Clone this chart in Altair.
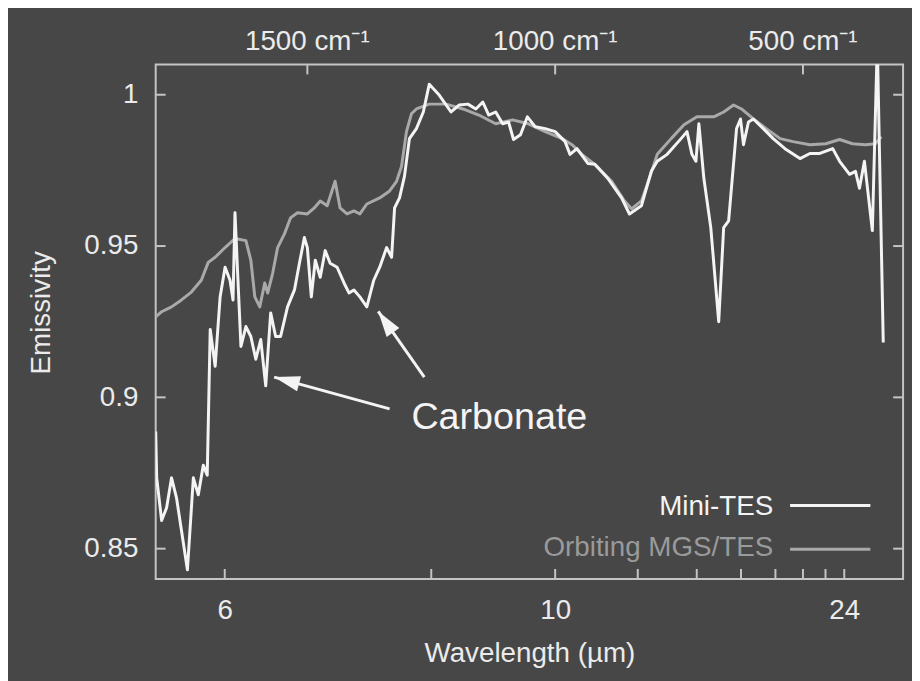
import altair as alt
import pandas as pd

# ---------------- data ----------------
# Orbiting MGS/TES spectrum: wavenumber (cm-1) and emissivity
mgs_wn = [1806, 1794, 1774, 1754, 1734, 1714, 1700, 1686, 1666, 1646, 1624, 1614, 1606, 1596, 1586,
          1580, 1570, 1560, 1546, 1534, 1520, 1500, 1486, 1474, 1460, 1444, 1434, 1420, 1406, 1394,
          1380, 1354, 1334, 1320, 1310, 1300, 1290, 1280, 1254, 1220, 1186, 1154, 1120, 1086, 1054,
          1020, 986, 966, 946, 920, 886, 860, 846, 826, 814, 794, 766, 740, 714, 680,
          660, 640, 624, 600, 574, 546, 520, 486, 454, 426, 400, 374, 354, 342]
mgs_em = [0.9266, 0.9283, 0.9299, 0.9322, 0.9348, 0.9387, 0.9446, 0.9463, 0.9495, 0.9525, 0.9518, 0.9453, 0.9332, 0.9299, 0.9378,
          0.9345, 0.9410, 0.9495, 0.9541, 0.9593, 0.9610, 0.9606, 0.9626, 0.9649, 0.9633, 0.9714, 0.9626, 0.9606, 0.9616, 0.9606,
          0.9639, 0.9659, 0.9682, 0.9714, 0.9763, 0.9878, 0.9937, 0.9953, 0.9969, 0.9969, 0.9953, 0.9933, 0.9904, 0.9917, 0.9904,
          0.9878, 0.9855, 0.9835, 0.9803, 0.9770, 0.9714, 0.9649, 0.9623, 0.9649, 0.9704, 0.9803, 0.9855, 0.9901, 0.9927, 0.9927,
          0.9943, 0.9966, 0.9953, 0.9920, 0.9888, 0.9855, 0.9845, 0.9835, 0.9838, 0.9852, 0.9838, 0.9835, 0.9838, 0.9861]

# Mini-TES spectrum
mini_wn = [1806, 1804, 1794, 1784, 1774, 1764, 1754, 1742, 1730, 1720, 1710, 1702, 1696, 1686, 1676,
           1666, 1656, 1650, 1646, 1640, 1634, 1624, 1614, 1604, 1594, 1584, 1574, 1564, 1554, 1540,
           1526, 1516, 1506, 1500, 1492, 1484, 1474, 1464, 1454, 1440, 1426, 1416, 1406, 1394, 1380,
           1366, 1354, 1340, 1330, 1324, 1314, 1304, 1294, 1280, 1266, 1254, 1234, 1210, 1194, 1176,
           1160, 1146, 1134, 1120, 1106, 1094, 1084, 1070, 1056, 1040, 1020, 1000, 980, 970, 956,
           934, 920, 894, 866, 850, 826, 806, 794, 774, 746, 734, 724, 716, 710, 700,
           686, 670, 660, 650, 634, 626, 620, 610, 600, 580, 560, 534, 506, 486, 466,
           440, 426, 406, 394, 386, 376, 360, 350, 338]
mini_em = [0.8887, 0.8734, 0.8593, 0.8635, 0.8734, 0.8668, 0.8560, 0.8430, 0.8734, 0.8678, 0.8776, 0.8743, 0.9224, 0.9103, 0.9332,
           0.9430, 0.9387, 0.9322, 0.9610, 0.9387, 0.9168, 0.9234, 0.9201, 0.9126, 0.9191, 0.9038, 0.9279, 0.9201, 0.9201, 0.9299,
           0.9355, 0.9443, 0.9528, 0.9495, 0.9332, 0.9453, 0.9397, 0.9485, 0.9443, 0.9430, 0.9378, 0.9345, 0.9355, 0.9332, 0.9299,
           0.9387, 0.9430, 0.9495, 0.9463, 0.9626, 0.9659, 0.9731, 0.9855, 0.9888, 0.9943, 1.0035, 0.9999, 0.9943, 0.9966, 0.9969,
           0.9953, 0.9976, 0.9933, 0.9943, 0.9904, 0.9910, 0.9852, 0.9868, 0.9927, 0.9894, 0.9888, 0.9878, 0.9845, 0.9803, 0.9822,
           0.9773, 0.9770, 0.9724, 0.9659, 0.9606, 0.9633, 0.9747, 0.9780, 0.9803, 0.9855, 0.9878, 0.9803, 0.9780, 0.9904, 0.9724,
           0.9561, 0.9250, 0.9561, 0.9583, 0.9888, 0.9920, 0.9835, 0.9910, 0.9920, 0.9888, 0.9855, 0.9819, 0.9789, 0.9806, 0.9806,
           0.9822, 0.9780, 0.9737, 0.9747, 0.9691, 0.9780, 0.9551, 1.0172, 0.9181]

# axis ticks / labels
wavelength_ticks = [6, 8, 10, 12, 14, 16, 18, 20, 22, 24]       # micrometres (bottom)
wavelength_labels = [6, 10, 24]
wavenumber_ticks = [1500, 1000, 500]                             # cm-1 (top)
wavenumber_labels = ["1500 cm\u207b\u00b9", "1000 cm\u207b\u00b9", "500 cm\u207b\u00b9"]
emissivity_ticks = [0.85, 0.9, 0.95, 1.0]

# annotation arrows ("Carbonate")
arrow_tail_wn = [1334, 1264]
arrow_tail_em = [0.8962, 0.9067]
arrow_tip_wn = [1567, 1357]
arrow_tip_em = [0.9067, 0.9284]
annot_wn = [1290]
annot_em = [0.8897]
annot_text = ["Carbonate"]

series_names = ["Mini-TES", "Orbiting MGS/TES"]

# ---------------- styling ----------------
BG = "#474747"
FRAME = "#c4c4c4"
TXT = "#ebebeb"
WHITE = "#f4f4f4"
GREY = "#a9a9a9"
GREY_TXT = "#9a9a9a"
FONT = "Liberation Sans"
FS = 28
W, H = 754, 519
TICK = 10

xscale = alt.Scale(domain=[298, 1806], reverse=True, nice=False, zero=False)
yscale = alt.Scale(domain=[0.84, 1.01], nice=False, zero=False)

df_mgs = pd.DataFrame({"wn": mgs_wn, "em": mgs_em})
df_mini = pd.DataFrame({"wn": mini_wn, "em": mini_em})
df_wl = pd.DataFrame({"wn": [10000.0 / l for l in wavelength_ticks]})
df_top = pd.DataFrame({"wn": wavenumber_ticks, "label": wavenumber_labels})
df_em = pd.DataFrame({"em": emissivity_ticks})
df_arrow = pd.DataFrame({"wn": arrow_tail_wn, "em": arrow_tail_em, "wn2": arrow_tip_wn, "em2": arrow_tip_em})
df_annot = pd.DataFrame({"wn": annot_wn, "em": annot_em, "t": annot_text})

x_axis = alt.Axis(
    values=[10000.0 / l for l in wavelength_labels],
    labelExpr="format(10000/datum.value, '.0f')",
    title="Wavelength (\u00b5m)", ticks=False, domain=False, grid=False,
    labelPadding=18, labelFontSize=FS, titleFontSize=FS, labelFlush=False,
    labelOverlap=False, titleY=83, titleBaseline="alphabetic",
)
y_axis = alt.Axis(
    values=emissivity_ticks, format="~g", title="Emissivity",
    ticks=False, domain=False, grid=False, labelPadding=18,
    labelFontSize=FS, titleFontSize=FS, labelFlush=False, labelOverlap=False,
    titleX=-107, titleY=250, titleAngle=-90, titleAlign="center", titleBaseline="alphabetic",
)


def X(field="wn"):
    return alt.X(f"{field}:Q", scale=xscale, axis=x_axis, title="Wavelength (\u00b5m)")


def Y(field="em"):
    return alt.Y(f"{field}:Q", scale=yscale, axis=y_axis, title="Emissivity")


grey_line = alt.Chart(df_mgs).mark_line(color=GREY, strokeWidth=3, clip=True, strokeJoin="round").encode(
    x=X(), y=Y())
white_line = alt.Chart(df_mini).mark_line(color=WHITE, strokeWidth=3, clip=True, strokeJoin="round").encode(
    x=X(), y=Y())

bottom_ticks = alt.Chart(df_wl).mark_rule(color=FRAME, strokeWidth=2).encode(
    x=X(), y=alt.value(H), y2=alt.value(H - TICK))
top_ticks = alt.Chart(pd.DataFrame({"wn": wavenumber_ticks})).mark_rule(color=FRAME, strokeWidth=2).encode(
    x=X(), y=alt.value(0), y2=alt.value(TICK))
left_ticks = alt.Chart(df_em).mark_rule(color=FRAME, strokeWidth=2).encode(
    y=Y(), x=alt.value(0), x2=alt.value(TICK))
right_ticks = alt.Chart(df_em).mark_rule(color=FRAME, strokeWidth=2).encode(
    y=Y(), x=alt.value(W - TICK), x2=alt.value(W))

top_labels = alt.Chart(df_top).mark_text(
    fontSize=FS, font=FONT, color=TXT, align="center", baseline="alphabetic").encode(
    x=X(), y=alt.value(-15), text="label:N")

arrow_lines = alt.Chart(df_arrow).mark_rule(color=WHITE, strokeWidth=3).encode(
    x=X(), y=Y(), x2="wn2:Q", y2="em2:Q")
HEAD = "M0,0L0.6,2L-0.6,2Z"
head1 = alt.Chart(df_arrow.iloc[[0]]).mark_point(
    shape=HEAD, size=676, angle=285, filled=True, color=WHITE, opacity=1, strokeWidth=0).encode(
    x=X("wn2"), y=Y("em2"))
head2 = alt.Chart(df_arrow.iloc[[1]]).mark_point(
    shape=HEAD, size=676, angle=325, filled=True, color=WHITE, opacity=1, strokeWidth=0).encode(
    x=X("wn2"), y=Y("em2"))
annot = alt.Chart(df_annot).mark_text(
    fontSize=38, font=FONT, color=WHITE, align="left", baseline="alphabetic").encode(
    x=X(), y=Y(), text="t:N")

# key (gnuplot style: label left of the line sample)
leg_df1 = pd.DataFrame({"t": [series_names[0]]})
leg_df2 = pd.DataFrame({"t": [series_names[1]]})
leg_t1 = alt.Chart(leg_df1).mark_text(fontSize=FS, font=FONT, color=WHITE, align="right", baseline="alphabetic").encode(
    x=alt.value(623), y=alt.value(455), text="t:N")
leg_l1 = alt.Chart(leg_df1).mark_rule(color=WHITE, strokeWidth=3).encode(
    x=alt.value(640), x2=alt.value(721), y=alt.value(445))
leg_t2 = alt.Chart(leg_df2).mark_text(fontSize=FS, font=FONT, color=GREY_TXT, align="right", baseline="alphabetic").encode(
    x=alt.value(623), y=alt.value(496), text="t:N")
leg_l2 = alt.Chart(leg_df2).mark_rule(color=GREY, strokeWidth=3).encode(
    x=alt.value(640), x2=alt.value(721), y=alt.value(489))

chart = alt.layer(
    grey_line, white_line, bottom_ticks, top_ticks, left_ticks, right_ticks, top_labels,
    arrow_lines, head1, head2, annot, leg_t1, leg_l1, leg_t2, leg_l2,
).properties(
    width=W, height=H,
    autosize=alt.AutoSizeParams(type="none"),
    padding={"left": 149, "top": 54, "right": 9, "bottom": 100},
).configure(
    background=BG, font=FONT,
).configure_view(
    stroke=FRAME, strokeWidth=2,
).configure_axis(
    labelColor=TXT, titleColor=TXT, labelFont=FONT, titleFont=FONT, titleFontWeight="normal",
)

chart.save("out.html", embed_options={"renderer": "svg", "actions": False})
